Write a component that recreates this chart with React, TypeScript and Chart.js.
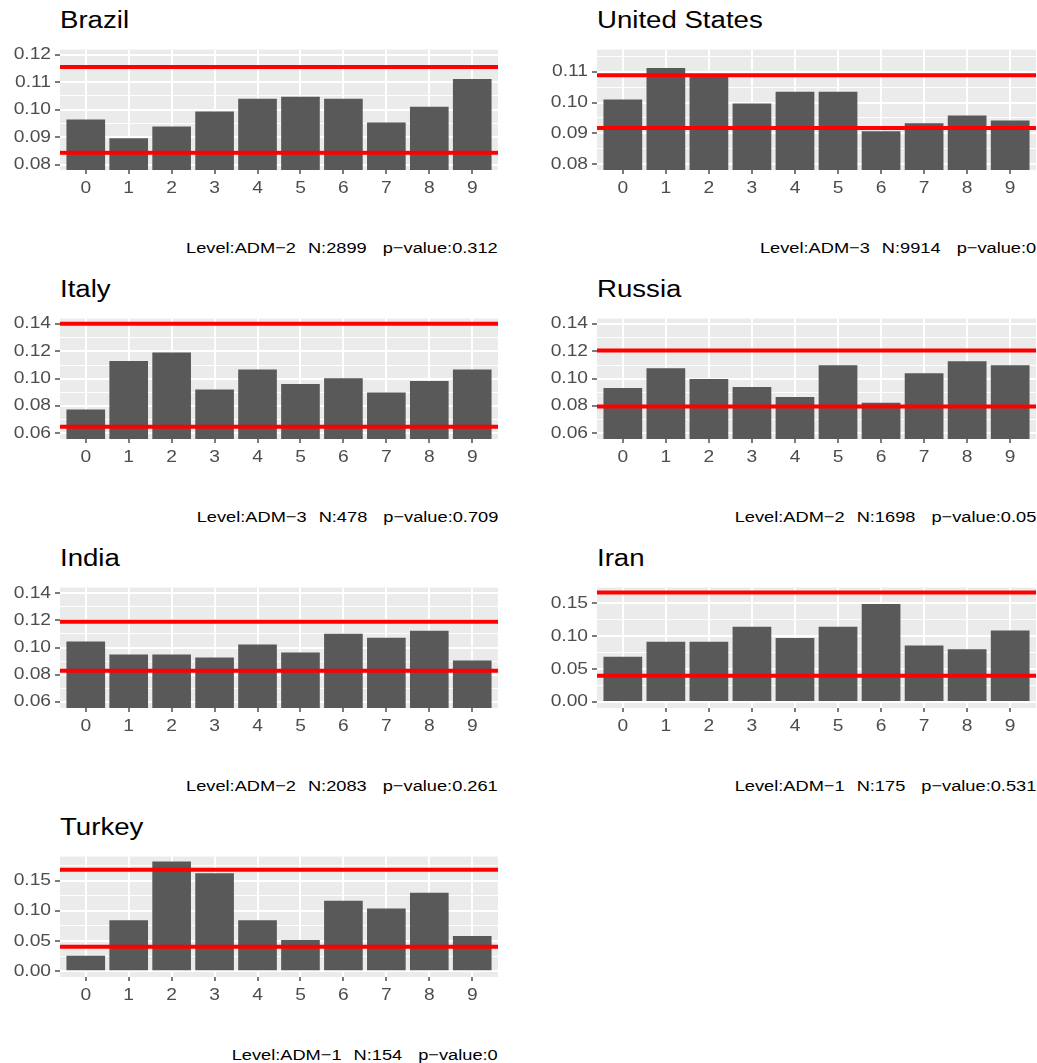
import React, { useEffect, useRef } from 'react';
import { Chart, registerables } from 'chart.js';

Chart.register(...registerables);

// ---------------- data ----------------
const digits = ['0', '1', '2', '3', '4', '5', '6', '7', '8', '9'];

const brazilValues = [0.0964, 0.0896, 0.0939, 0.0993, 0.104, 0.1047, 0.104, 0.0953, 0.1011, 0.1111];
const brazilBounds = [0.0844, 0.1155];
const brazilTicks = [0.08, 0.09, 0.1, 0.11, 0.12];
const brazilLimits = [0.0781, 0.1218];
const brazilCaption = ['Level:ADM\u22122', 'N:2899', 'p\u2212value:0.312'];

const usValues = [0.101, 0.1112, 0.109, 0.0997, 0.1035, 0.1035, 0.0907, 0.0933, 0.0958, 0.0942];
const usBounds = [0.0917, 0.1089];
const usTicks = [0.08, 0.09, 0.1, 0.11];
const usLimits = [0.0781, 0.1172];
const usCaption = ['Level:ADM\u22123', 'N:9914', 'p\u2212value:0'];

const italyValues = [0.0774, 0.113, 0.1192, 0.0921, 0.1067, 0.0962, 0.1004, 0.09, 0.0983, 0.1067];
const italyBounds = [0.0648, 0.1402];
const italyTicks = [0.06, 0.08, 0.1, 0.12, 0.14];
const italyLimits = [0.0559, 0.144];
const italyCaption = ['Level:ADM\u22123', 'N:478', 'p\u2212value:0.709'];

const russiaValues = [0.0933, 0.1077, 0.0998, 0.094, 0.0867, 0.1099, 0.0824, 0.1041, 0.1128, 0.1099];
const russiaBounds = [0.0797, 0.1207];
const russiaTicks = [0.06, 0.08, 0.1, 0.12, 0.14];
const russiaLimits = [0.0559, 0.144];
const russiaCaption = ['Level:ADM\u22122', 'N:1698', 'p\u2212value:0.05'];

const indiaValues = [0.1044, 0.0949, 0.0949, 0.0927, 0.1022, 0.0964, 0.1102, 0.1073, 0.1124, 0.0905];
const indiaBounds = [0.0829, 0.119];
const indiaTicks = [0.06, 0.08, 0.1, 0.12, 0.14];
const indiaLimits = [0.0556, 0.1441];
const indiaCaption = ['Level:ADM\u22122', 'N:2083', 'p\u2212value:0.261'];

const iranValues = [0.0686, 0.0914, 0.0914, 0.1143, 0.0971, 0.1143, 0.1486, 0.0857, 0.08, 0.1086];
const iranBounds = [0.04, 0.166];
const iranTicks = [0.0, 0.05, 0.1, 0.15];
const iranLimits = [-0.009, 0.1736];
const iranCaption = ['Level:ADM\u22121', 'N:175', 'p\u2212value:0.531'];

const turkeyValues = [0.026, 0.0844, 0.1818, 0.1623, 0.0844, 0.0519, 0.1169, 0.1039, 0.1299, 0.0584];
const turkeyBounds = [0.0407, 0.168];
const turkeyTicks = [0.0, 0.05, 0.1, 0.15];
const turkeyLimits = [-0.0093, 0.1897];
const turkeyCaption = ['Level:ADM\u22121', 'N:154', 'p\u2212value:0'];

const panels = [
  { title: 'Brazil', caption: brazilCaption, values: brazilValues, bounds: brazilBounds, ticks: brazilTicks, limits: brazilLimits, row: 0, col: 0 },
  { title: 'United States', caption: usCaption, values: usValues, bounds: usBounds, ticks: usTicks, limits: usLimits, row: 0, col: 1 },
  { title: 'Italy', caption: italyCaption, values: italyValues, bounds: italyBounds, ticks: italyTicks, limits: italyLimits, row: 1, col: 0 },
  { title: 'Russia', caption: russiaCaption, values: russiaValues, bounds: russiaBounds, ticks: russiaTicks, limits: russiaLimits, row: 1, col: 1 },
  { title: 'India', caption: indiaCaption, values: indiaValues, bounds: indiaBounds, ticks: indiaTicks, limits: indiaLimits, row: 2, col: 0 },
  { title: 'Iran', caption: iranCaption, values: iranValues, bounds: iranBounds, ticks: iranTicks, limits: iranLimits, row: 2, col: 1 },
  { title: 'Turkey', caption: turkeyCaption, values: turkeyValues, bounds: turkeyBounds, ticks: turkeyTicks, limits: turkeyLimits, row: 3, col: 0 },
];

// ---------------- layout / style ----------------
const PAGE_W = 1037;
const PAGE_H = 1063;
const FONT = '"Liberation Sans", Arial, Helvetica, sans-serif';
const STRETCH = 1.2; // the reference text is horizontally stretched
const COL_LEFT = [60, 597];
const COL_WIDTH = [438, 439];
const ROW_TOP = [48, 317, 586, 855];
const PANEL_H = 122;
const YAXIS_W = 60;
const XAXIS_H = 30;
const TOP_PAD = 12;
const TITLE_SIZE = 23;
const TEXT_SIZE = 16;
const CAPTION_SIZE = 15.2;
const CAPTION_GAPS = [12, 16];

Chart.defaults.font.family = FONT;

const bgPlugin = {
  id: 'panelBg',
  beforeDraw(chart: any) {
    const { ctx, chartArea: a } = chart;
    ctx.save();
    ctx.fillStyle = '#EBEBEB';
    ctx.fillRect(a.left, a.top, a.right - a.left, a.bottom - a.top);
    ctx.restore();
  },
};

const boundsPlugin = {
  id: 'boundLines',
  afterDatasetsDraw(chart: any, _args: any, opts: any) {
    const { ctx, chartArea: a, scales } = chart;
    const y = scales.y;
    ctx.save();
    ctx.strokeStyle = opts.color;
    ctx.lineWidth = opts.width;
    ctx.lineCap = 'butt';
    for (const v of opts.values) {
      const py = y.getPixelForValue(v);
      ctx.beginPath();
      ctx.moveTo(a.left, py);
      ctx.lineTo(a.right, py);
      ctx.stroke();
    }
    ctx.restore();
  },
};

function stretchText(ctx: any) {
  if (ctx.__stretched) return;
  ctx.__stretched = true;
  const orig = ctx.fillText.bind(ctx);
  ctx.fillText = (text: string, x: number, y: number, maxWidth?: number) => {
    ctx.save();
    ctx.translate(x, y);
    ctx.scale(STRETCH, 1);
    if (maxWidth === undefined || maxWidth === null) orig(text, 0, 0);
    else orig(text, 0, 0, maxWidth / STRETCH);
    ctx.restore();
  };
}

function PanelChart({ p }: { p: any }) {
  const ref = useRef<HTMLCanvasElement>(null);
  const left = COL_LEFT[p.col];
  const width = COL_WIDTH[p.col];
  const top = ROW_TOP[p.row];
  const rightPad = 1;
  const cw = YAXIS_W + width + rightPad;
  const ch = TOP_PAD + PANEL_H + XAXIS_H;

  useEffect(() => {
    const canvas = ref.current!;
    const ctx = canvas.getContext('2d')!;
    stretchText(ctx);

    const major: number[] = p.ticks;
    const step = major[1] - major[0];
    const yTicks: any[] = [];
    const cand: number[] = [major[0] - step / 2];
    major.forEach((v) => { cand.push(v); cand.push(v + step / 2); });
    cand.forEach((v, i) => {
      if (v >= p.limits[0] && v <= p.limits[1]) yTicks.push({ value: v, minor: i % 2 === 0 });
    });

    const chart = new Chart(ctx, {
      type: 'bar',
      data: {
        datasets: [
          {
            data: p.values.map((v: number, i: number) => ({ x: i, y: v })),
            backgroundColor: '#595959',
            borderWidth: 0,
            barPercentage: 0.9,
            categoryPercentage: 1,
            clip: 0,
          } as any,
        ],
      },
      options: {
        animation: false,
        responsive: false,
        devicePixelRatio: 1,
        events: [],
        layout: { padding: { top: TOP_PAD, right: rightPad, bottom: 0, left: 0 } },
        plugins: {
          legend: { display: false },
          tooltip: { enabled: false },
          title: { display: false },
          boundLines: { values: p.bounds, color: '#FF0000', width: 4 },
        } as any,
        scales: {
          x: {
            type: 'linear',
            min: -0.6,
            max: 9.6,
            bounds: 'data',
            offset: false,
            afterBuildTicks: (s: any) => { s.ticks = digits.map((_d, i) => ({ value: i })); },
            afterFit: (s: any) => { s.height = XAXIS_H; },
            ticks: {
              autoSkip: false,
              maxRotation: 0,
              minRotation: 0,
              padding: 4.5,
              color: '#4D4D4D',
              font: { size: TEXT_SIZE, family: FONT },
              callback: (_v: any, i: number) => digits[i],
            },
            grid: {
              offset: false,
              color: '#FFFFFF',
              lineWidth: 2,
              tickColor: '#333333',
              tickLength: 4,
              tickWidth: 1.3,
            },
            border: { display: false },
          } as any,
          y: {
            type: 'linear',
            min: p.limits[0],
            max: p.limits[1],
            bounds: 'data',
            beginAtZero: false,
            afterBuildTicks: (s: any) => { s.ticks = yTicks.map((t) => ({ value: t.value, minor: t.minor })); },
            afterFit: (s: any) => { s.width = YAXIS_W; },
            ticks: {
              autoSkip: false,
              padding: 4,
              color: '#4D4D4D',
              font: { size: TEXT_SIZE, family: FONT },
              callback: (v: any, i: number, ts: any[]) => (ts[i] && ts[i].minor ? '' : Number(v).toFixed(2)),
            },
            grid: {
              color: '#FFFFFF',
              lineWidth: (c: any) => (c.tick && c.tick.minor ? 1 : 2),
              tickColor: (c: any) => (c.tick && c.tick.minor ? 'rgba(0,0,0,0)' : '#333333'),
              tickLength: 5,
              tickWidth: 1.3,
            },
            border: { display: false },
          } as any,
        },
      },
      plugins: [bgPlugin, boundsPlugin],
    } as any);

    return () => { chart.destroy(); };
  }, []);

  return (
    <canvas
      ref={ref}
      width={cw}
      height={ch}
      style={{ position: 'absolute', left: left - YAXIS_W, top: top - TOP_PAD, width: cw, height: ch, display: 'block' }}
    />
  );
}

function Panel({ p }: { p: any }) {
  const left = COL_LEFT[p.col];
  const right = left + COL_WIDTH[p.col];
  const top = ROW_TOP[p.row];
  const ascent = 0.8465;
  return (
    <>
      <div
        style={{
          position: 'absolute',
          left,
          top: top - 19.5 - ascent * TITLE_SIZE,
          fontSize: TITLE_SIZE,
          lineHeight: `${TITLE_SIZE}px`,
          whiteSpace: 'pre',
          color: '#000000',
          transform: `scaleX(${STRETCH})`,
          transformOrigin: 'left top',
        }}
      >
        {p.title}
      </div>
      <PanelChart p={p} />
      <div
        style={{
          position: 'absolute',
          right: PAGE_W - right,
          top: top + 204.5 - ascent * CAPTION_SIZE,
          fontSize: CAPTION_SIZE,
          lineHeight: `${CAPTION_SIZE}px`,
          whiteSpace: 'nowrap',
          color: '#000000',
          transform: `scaleX(${STRETCH})`,
          transformOrigin: 'right top',
        }}
      >
        {p.caption.map((g: string, i: number) => (
          <span
            key={i}
            style={{ display: 'inline-block', marginLeft: i === 0 ? 0 : CAPTION_GAPS[i - 1] / STRETCH }}
          >
            {g}
          </span>
        ))}
      </div>
    </>
  );
}

export default function App() {
  return (
    <div
      style={{
        position: 'absolute',
        left: 0,
        top: 0,
        width: PAGE_W,
        height: PAGE_H,
        background: '#FFFFFF',
        overflow: 'hidden',
        fontFamily: FONT,
      }}
    >
      {panels.map((p) => (
        <Panel key={p.title} p={p} />
      ))}
    </div>
  );
}
